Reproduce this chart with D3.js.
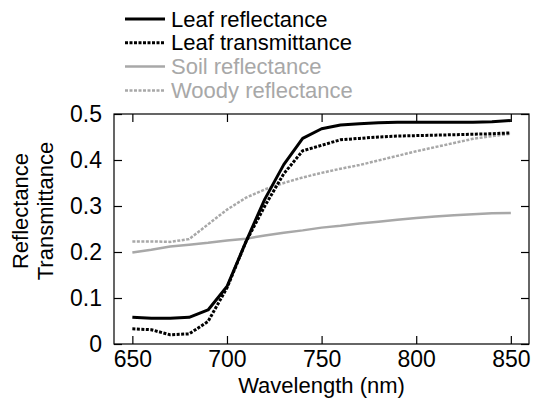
<!DOCTYPE html>
<html>
<head>
<meta charset="utf-8">
<script src="https://cdn.jsdelivr.net/npm/d3@7"></script>
<style>
  body { margin: 0; background: #fff; }
  text { font-family: 'Liberation Sans', Arial, sans-serif; }
</style>
</head>
<body>
<div id="chart"></div>
<script>
const wavelength = [650, 660, 670, 680, 690, 700, 710, 720, 730, 740, 750, 760, 770, 780, 790, 800, 810, 820, 830, 840, 850]

const leafReflectance = [0.058, 0.056, 0.056, 0.058, 0.074, 0.125, 0.222, 0.315, 0.39, 0.447, 0.468, 0.476, 0.479, 0.481, 0.482, 0.482, 0.482, 0.482, 0.482, 0.483, 0.486]
const leafTransmittance = [0.033, 0.031, 0.02, 0.022, 0.049, 0.122, 0.222, 0.3, 0.37, 0.42, 0.432, 0.444, 0.447, 0.45, 0.452, 0.453, 0.454, 0.455, 0.456, 0.457, 0.459]
const soilReflectance = [0.199, 0.205, 0.212, 0.216, 0.22, 0.225, 0.229, 0.236, 0.242, 0.247, 0.253, 0.257, 0.262, 0.266, 0.27, 0.274, 0.277, 0.28, 0.282, 0.284, 0.285]
const woodyReflectance = [0.223, 0.223, 0.222, 0.228, 0.26, 0.292, 0.318, 0.336, 0.35, 0.362, 0.372, 0.381, 0.389, 0.399, 0.409, 0.419, 0.428, 0.437, 0.446, 0.452, 0.457]

const seriesNames = ['Leaf reflectance', 'Leaf transmittance', 'Soil reflectance', 'Woody reflectance']
const xTicks = [650, 700, 750, 800, 850]
const yTicks = [0, 0.1, 0.2, 0.3, 0.4, 0.5]

const gray = '#a8a8a8'
const styles = [
  { color: '#000', dash: null, width: 3 },
  { color: '#000', dash: '3,1.5', width: 3 },
  { color: gray, dash: null, width: 2.5 },
  { color: gray, dash: '3,1.5', width: 2.5 }
]

const series = [leafReflectance, leafTransmittance, soilReflectance, woodyReflectance]

const margin = { top: 114, right: 4, bottom: 63, left: 114 }
const width = 533 - margin.left - margin.right
const height = 407 - margin.top - margin.bottom

const svgRoot = d3.select('#chart')
  .append('svg')
  .attr('width', 533)
  .attr('height', 407)

const svg = svgRoot.append('g')
  .attr('transform', `translate(${margin.left}, ${margin.top})`)

const xPositionScale = d3.scaleLinear().domain([640.3, 859.6]).range([0, width])
const yPositionScale = d3.scaleLinear().domain([0, 0.5]).range([height, 0])

// frame
svg.append('rect')
  .attr('width', width)
  .attr('height', height)
  .attr('fill', 'none')
  .attr('stroke', '#000')
  .attr('stroke-width', 1.2)

// lines
const line = d3.line()
  .x((d, i) => xPositionScale(wavelength[i]))
  .y(d => yPositionScale(d))

// draw back to front: soil, woody, transmittance, reflectance
;[2, 3, 1, 0].forEach(k => {
  svg.append('path')
    .datum(series[k])
    .attr('d', line)
    .attr('fill', 'none')
    .attr('stroke', styles[k].color)
    .attr('stroke-width', styles[k].width)
    .attr('stroke-dasharray', styles[k].dash)
    .attr('stroke-linejoin', 'round')
})

// axes with inward ticks
const tickLen = 8
const xAxis = d3.axisBottom(xPositionScale).tickValues(xTicks).tickSizeInner(-tickLen).tickSizeOuter(0).tickPadding(7)
const yAxis = d3.axisLeft(yPositionScale).tickValues(yTicks).tickFormat(d => d === 0 ? '0' : d3.format('.1f')(d)).tickSizeInner(-tickLen).tickSizeOuter(0).tickPadding(12)

svg.append('g')
  .attr('class', 'axis x-axis')
  .attr('transform', `translate(0,${height})`)
  .call(xAxis)

svg.append('g')
  .attr('class', 'axis y-axis')
  .call(yAxis)

svg.append('g')
  .attr('transform', 'translate(0,0)')
  .call(d3.axisTop(xPositionScale).tickValues(xTicks).tickSizeInner(-tickLen).tickSizeOuter(0).tickFormat(''))

svg.append('g')
  .attr('transform', `translate(${width},0)`)
  .call(d3.axisRight(yPositionScale).tickValues(yTicks).tickSizeInner(-tickLen).tickSizeOuter(0).tickFormat(''))

svg.selectAll('.domain').remove()
svg.selectAll('.tick line').attr('stroke', '#000').attr('stroke-width', 1.2)
svg.selectAll('.tick text')
  .attr('font-size', 23)
  .attr('font-family', "'Liberation Sans', Arial, sans-serif")
  .attr('fill', '#000')

// axis titles
svgRoot.append('text')
  .attr('x', margin.left + width / 2)
  .attr('y', 393)
  .attr('text-anchor', 'middle')
  .attr('font-size', 22)
  .text('Wavelength (nm)')

svgRoot.append('text')
  .attr('transform', 'translate(28,211) rotate(-90)')
  .attr('text-anchor', 'middle')
  .attr('font-size', 22)
  .text('Reflectance')

svgRoot.append('text')
  .attr('transform', 'translate(53,211) rotate(-90)')
  .attr('text-anchor', 'middle')
  .attr('font-size', 22)
  .text('Transmittance')

// legend
const legend = svgRoot.append('g')
  .selectAll('.legend-item')
  .data(seriesNames)
  .enter()
  .append('g')
  .attr('class', 'legend-item')
  .attr('transform', (d, i) => `translate(0, ${19 + i * 23.8})`)

legend.append('line')
  .attr('x1', 125)
  .attr('x2', 165)
  .attr('y1', 0)
  .attr('y2', 0)
  .attr('stroke', (d, i) => styles[i].color)
  .attr('stroke-width', (d, i) => styles[i].width)
  .attr('stroke-dasharray', (d, i) => styles[i].dash)

legend.append('text')
  .attr('x', 171)
  .attr('y', 7.5)
  .attr('font-size', 22)
  .attr('fill', (d, i) => styles[i].color)
  .text(d => d)
</script>
</body>
</html>
